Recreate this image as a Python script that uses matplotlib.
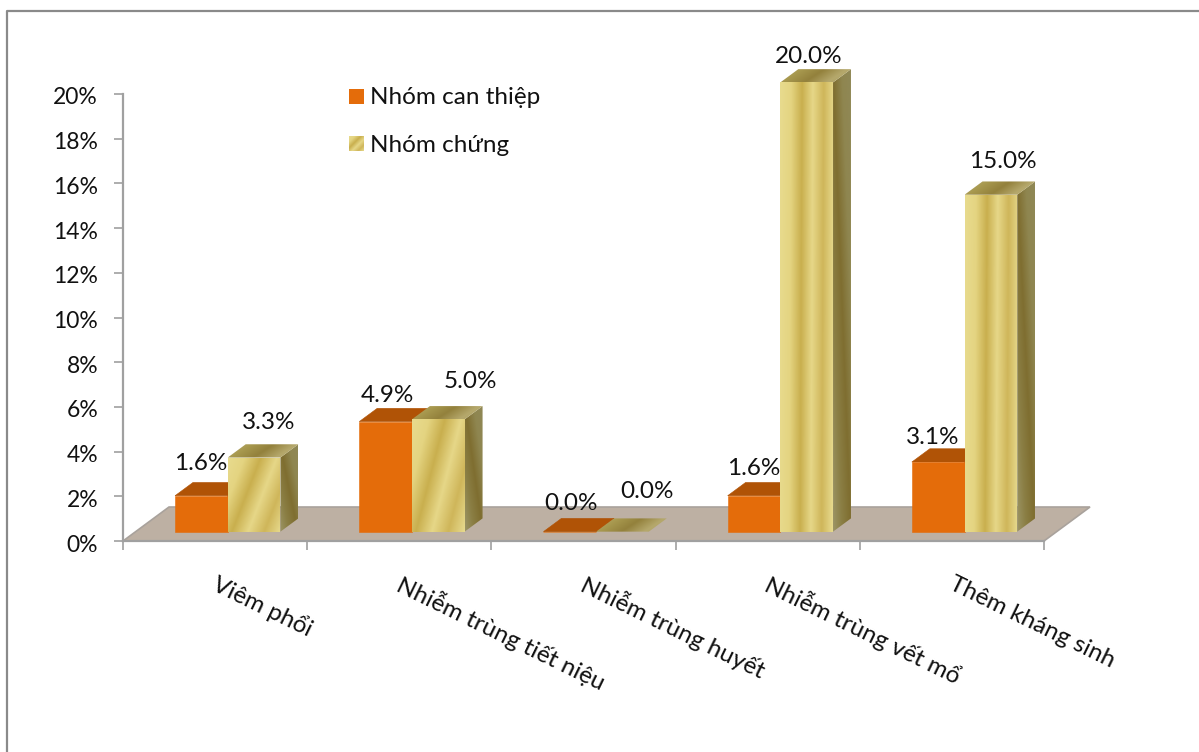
"""3D-look clustered bars: infection rates, intervention group vs control group."""

import matplotlib

matplotlib.use("Agg")
import matplotlib.pyplot as plt
import numpy as np
from matplotlib.colors import LinearSegmentedColormap
from matplotlib.lines import Line2D
from matplotlib.patches import Polygon, Rectangle
from matplotlib.transforms import ScaledTranslation

plt.rcParams["font.family"] = ["Lato", "DejaVu Sans"]

categories = [
    "Viêm phổi",
    "Nhiễm trùng tiết niệu",
    "Nhiễm trùng huyết",
    "Nhiễm trùng vết mổ",
    "Thêm kháng sinh",
]
series_names = ["Nhóm can thiệp", "Nhóm chứng"]
can_thiep = [1.6, 4.9, 0.0, 1.6, 3.1]
chung = [3.3, 5.0, 0.0, 20.0, 15.0]
y_ticks = [0, 2, 4, 6, 8, 10, 12, 14, 16, 18, 20]

# manual data label nudges in pixels, from the top of each bar
can_thiep_nudge = [(-1, 32), (2, 26), (1, 28), (0, 27), (-6, 25)]
chung_nudge = [(15, 35), (32, 38), (25, 40), (2, 26), (12, 33)]

W, H = 1199, 752
AXIS_L, AXIS_R, AXIS_TOP, AXIS_BOTTOM = 123, 1044, 94, 541
GREY = "#8a8a8a"
AXIS_GREY = "#a0a0a0"
TEXT = "#111111"
FONT = 17.5

# oblique projection: t=0 front of the floor, t=1 back of the floor
DEPTH_X = 46 / ((AXIS_R - AXIS_L) / 5)
DEPTH_Y = 34 / ((AXIS_BOTTOM - AXIS_TOP) / 20)
T_FRONT, T_BACK = 0.275, 0.665
BAR_W = 0.286
BAR_SCALE = 1.005

gold_front = LinearSegmentedColormap.from_list(
    "gold_front", ["#e8db8e", "#e4d481", "#c9af4e", "#e6d788", "#cfb65a", "#e7da8e"]
)
gold_side = LinearSegmentedColormap.from_list(
    "gold_side", ["#9c9566", "#8b7f45", "#7f6e30", "#8f8650", "#8f8856"]
)
gold_top = LinearSegmentedColormap.from_list(
    "gold_top", ["#b9ae78", "#a8994f", "#93813c", "#b5a86c", "#aea262"]
)


def project(x, y, t):
    return x + t * DEPTH_X, y + t * DEPTH_Y


def gradient(shear, steps=80):
    u, v = np.meshgrid(np.linspace(0, 1, steps), np.linspace(0, 1, steps))
    t = u - shear * v
    return (t - t.min()) / (t.max() - t.min())


def fill_gradient(ax, corners, cmap, values, zorder):
    xs = [c[0] for c in corners]
    ys = [c[1] for c in corners]
    clip = Polygon(corners, closed=True, transform=ax.transData, facecolor="none", edgecolor="none")
    ax.add_patch(clip)
    im = ax.imshow(
        values, cmap=cmap, origin="lower", aspect="auto", zorder=zorder,
        extent=(min(xs), max(xs), min(ys), max(ys)), interpolation="bilinear",
    )
    im.set_clip_box(ax.figure.bbox)
    im.set_clip_path(clip)


def draw_bar(ax, x0, value, front, side, top, zorder):
    x1 = x0 + BAR_W
    h = value * BAR_SCALE
    front_pts = [project(x0, 0, T_FRONT), project(x1, 0, T_FRONT),
                 project(x1, h, T_FRONT), project(x0, h, T_FRONT)]
    side_pts = [project(x1, 0, T_FRONT), project(x1, 0, T_BACK),
                project(x1, h, T_BACK), project(x1, h, T_FRONT)]
    top_pts = [project(x0, h, T_FRONT), project(x1, h, T_FRONT),
               project(x1, h, T_BACK), project(x0, h, T_BACK)]
    for pts, paint in ((side_pts, side), (top_pts, top), (front_pts, front)):
        if isinstance(paint, str):
            ax.add_patch(Polygon(pts, closed=True, facecolor=paint, edgecolor=paint,
                                 linewidth=0.4, zorder=zorder, clip_on=False))
        else:
            cmap, values = paint
            fill_gradient(ax, pts, cmap, values, zorder)


fig = plt.figure(figsize=(W / 100, H / 100), dpi=100, facecolor="white")
# the frame only shows on the left and top, the rest is cropped away
fig.add_artist(Line2D([7 / W, 7 / W, 1], [0, 1 - 11 / H, 1 - 11 / H], color=GREY, linewidth=1.6))

ax = fig.add_axes([AXIS_L / W, 1 - AXIS_BOTTOM / H, (AXIS_R - AXIS_L) / W,
                   (AXIS_BOTTOM - AXIS_TOP) / H])
ax.patch.set_visible(False)
for name in ("top", "right"):
    ax.spines[name].set_visible(False)
for name in ("left", "bottom"):
    ax.spines[name].set_color(AXIS_GREY)
    ax.spines[name].set_linewidth(1.6)
    ax.spines[name].set_zorder(8)

n = len(categories)
ax.add_patch(Polygon([project(0, 0, 0), project(n, 0, 0), project(n, 0, 1), project(0, 0, 1)],
                     closed=True, facecolor="#bdb0a3", edgecolor="#a9a29c", linewidth=1.2,
                     zorder=1, clip_on=False))

for i in range(n):
    x_mid = i + 0.5
    draw_bar(ax, x_mid - BAR_W, can_thiep[i], "#e46c0a", "#a85208", "#b05306", 3)
    short = chung[i] < 10
    draw_bar(ax, x_mid, chung[i],
             (gold_front, gradient(0.55 if short else 0.04)),
             (gold_side, gradient(-1.0)),
             (gold_top, gradient(0.3)), 4)

    for value, x_bar, (dx, dy) in (
        (can_thiep[i], x_mid - BAR_W / 2, can_thiep_nudge[i]),
        (chung[i], x_mid + BAR_W / 2, chung_nudge[i]),
    ):
        ax.annotate(f"{value:.1f}%", project(x_bar, value * BAR_SCALE, T_FRONT),
                    xytext=(dx, dy), textcoords="offset pixels", ha="center", va="center",
                    fontsize=FONT, color=TEXT, annotation_clip=False, zorder=10)

    ax.annotate(categories[i], (x_mid, 0), xytext=(-1, -42), textcoords="offset pixels",
                rotation=-26, rotation_mode="anchor", ha="left", va="center",
                fontsize=FONT, color=TEXT, annotation_clip=False)

ax.set_xlim(0, n)
ax.set_ylim(0, 20)
ax.set_xticks(range(n + 1))
ax.set_xticklabels([])
ax.set_yticks(y_ticks)
ax.set_yticklabels([f"{v}%" for v in y_ticks], fontsize=16.5, color=TEXT)
ax.tick_params(axis="both", direction="out", length=6.5, width=1.2, color=AXIS_GREY)
ax.tick_params(axis="y", pad=11.5)
# nudge the tick labels down a touch
for label in ax.get_yticklabels():
    label.set_transform(label.get_transform() + ScaledTranslation(0, -2 / 100, fig.dpi_scale_trans))

# legend, drawn by hand for the gradient swatch
fig.patches.append(Rectangle((349 / W, 1 - 104 / H), 15 / W, 15 / H,
                             transform=fig.transFigure, facecolor="#e46c0a", edgecolor="none"))
swatch = fig.add_axes([349 / W, 1 - 151 / H, 15 / W, 15 / H])
swatch.imshow(gradient(1.0), cmap=gold_front, origin="lower", aspect="auto")
swatch.axis("off")
fig.text(370 / W, 1 - 98 / H, series_names[0], fontsize=FONT, color=TEXT, ha="left", va="center")
fig.text(370 / W, 1 - 146 / H, series_names[1], fontsize=FONT, color=TEXT, ha="left", va="center")

fig.savefig("out.png", dpi=100, facecolor="white")
